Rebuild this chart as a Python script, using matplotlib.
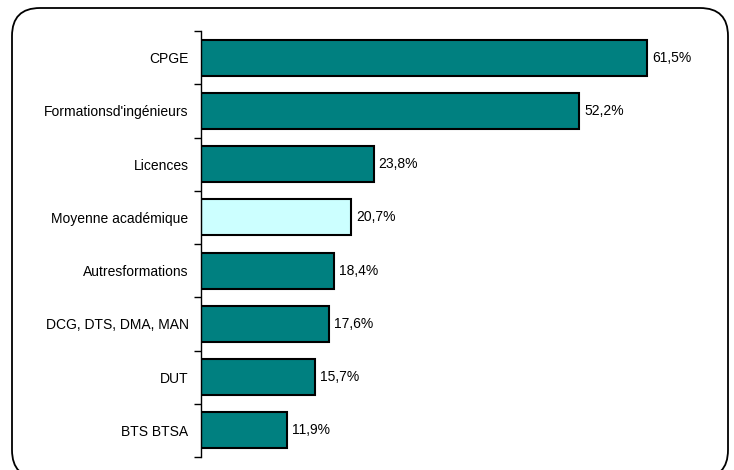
import matplotlib.pyplot as plt
from matplotlib.patches import FancyBboxPatch
import numpy as np

# Taux par formation (de haut en bas)
categories = ["CPGE", "Formationsd'ingénieurs", "Licences", "Moyenne académique",
              "Autresformations", "DCG, DTS, DMA, MAN", "DUT", "BTS BTSA"]
values = [61.5, 52.2, 23.8, 20.7, 18.4, 17.6, 15.7, 11.9]
labels = ["61,5%", "52,2%", "23,8%", "20,7%", "18,4%", "17,6%", "15,7%", "11,9%"]
highlight = "Moyenne académique"

plt.rcParams['font.family'] = ['Liberation Sans', 'DejaVu Sans']

fig = plt.figure(figsize=(7.34, 4.70), dpi=100)
ax = fig.add_axes([201 / 734, 13 / 470, 507.5 / 734, 426 / 470])

y = np.arange(len(categories))[::-1]
colors = ['#CCFFFF' if c == highlight else '#008080' for c in categories]
ax.barh(y, values, height=0.68, color=colors, edgecolor='black', linewidth=1.5)

for yi, v, lab in zip(y, values, labels):
    ax.text(v + 0.7, yi, lab, va='center', ha='left', fontsize=10)

ax.set_xlim(0, 70)
ax.set_ylim(-0.5, len(categories) - 0.5)
ax.set_yticks(y)
ax.set_yticklabels(categories, fontsize=10)
ax.set_yticks(np.arange(-0.5, len(categories)), minor=True)
ax.tick_params(axis='y', which='major', length=0, pad=9)
ax.tick_params(axis='y', which='minor', length=5, width=1, direction='out')
ax.set_xticks([])
for s in ['top', 'right', 'bottom']:
    ax.spines[s].set_visible(False)
ax.spines['left'].set_linewidth(1)

# cadre arrondi autour du graphique
box = FancyBboxPatch((0.12, -0.08), 7.16, 4.70,
                     boxstyle="round,pad=0,rounding_size=0.28",
                     transform=fig.dpi_scale_trans, fill=False,
                     edgecolor='black', linewidth=1.3)
fig.patches.append(box)

fig.savefig('out.png', dpi=100)
